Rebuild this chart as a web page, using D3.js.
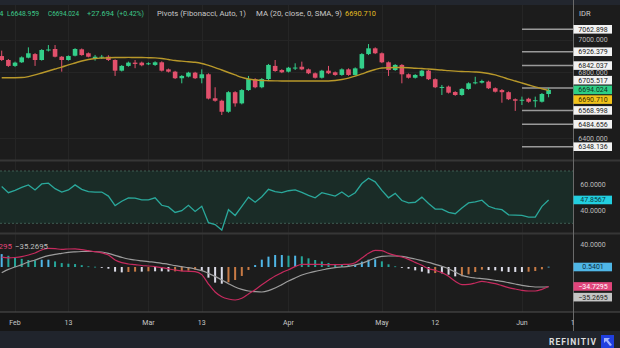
<!DOCTYPE html>
<html><head><meta charset="utf-8">
<script src="https://cdn.jsdelivr.net/npm/d3@7"></script>
<style>
html,body{margin:0;padding:0;background:#1c1c1c;overflow:hidden}
svg{display:block;font-family:Roboto,"Open Sans",sans-serif}
</style></head><body><svg id="c" width="620" height="348"></svg>
<script>
// ---------- DATA ----------
const opens=[6900,6876,6840,6862,6890,6912,6876,6934,6943,6896,
6876,6902,6941,6917,6888,6893,6896,6876,6811,6840,
6860,6860,6850,6846,6862,6819,6805,6765,6775,6799,
6765,6789,6643,6628,6561,6680,6612,6693,6759,6710,
6760,6840,6815,6805,6825,6835,6819,6795,6768,6811,
6801,6785,6819,6785,6825,6912,6947,6917,6862,6815,
6846,6789,6768,6779,6811,6759,6707,6714,6681,6663,
6700,6735,6738,6744,6704,6693,6680,6637,6630,6640,
6626,6622,6669];
const highs=[6933,6882,6866,6898,6953,6918,6942,6967,6967,6900,
6904,6948,6946,6922,6907,6907,6905,6880,6845,6866,
6876,6866,6862,6868,6868,6824,6810,6784,6804,6804,
6819,6795,6710,6634,6686,6686,6699,6779,6765,6766,
6852,6876,6820,6834,6856,6866,6824,6800,6816,6840,
6806,6825,6825,6831,6918,6973,6953,6922,6867,6851,
6851,6794,6790,6816,6816,6764,6724,6720,6686,6705,
6740,6774,6756,6750,6709,6699,6685,6642,6653,6646,
6653,6675,6705];
const lows=[6870,6834,6834,6858,6886,6840,6872,6928,6892,6805,
6872,6898,6902,6892,6872,6882,6870,6779,6806,6835,
6826,6838,6845,6840,6806,6800,6760,6734,6770,6760,
6734,6636,6622,6541,6555,6592,6606,6688,6704,6704,
6754,6804,6796,6800,6815,6814,6790,6763,6763,6790,
6780,6780,6780,6780,6820,6906,6912,6857,6779,6810,
6734,6763,6763,6774,6754,6705,6663,6672,6658,6658,
6695,6728,6733,6699,6678,6616,6632,6566,6602,6616,
6588,6617,6648.959];
const closes=[6876,6840,6860,6892,6917,6876,6937,6940,6896,6876,
6900,6943,6906,6896,6896,6896,6876,6811,6840,6860,
6852,6844,6856,6862,6811,6805,6765,6779,6799,6765,
6789,6641,6628,6561,6680,6612,6693,6760,6710,6760,
6846,6809,6801,6829,6830,6819,6795,6768,6811,6795,
6785,6819,6785,6825,6912,6947,6917,6862,6815,6846,
6789,6768,6785,6811,6759,6710,6712,6677,6663,6700,
6734,6740,6748,6704,6683,6680,6637,6628,6634,6622,
6631,6669,6694.024];
const ma20=[6768,6768,6768,6769,6775,6785,6797,6809,6821,6833,
6846,6858,6870,6879,6885,6888,6890,6891,6891,6892,
6891,6891,6890,6889,6885,6879,6873,6869,6865,6862,
6855,6843,6830,6815,6800,6785,6770,6760,6754,6751,
6750,6749,6748,6748,6748,6748,6748,6748,6748,6748,
6751,6757,6766,6778,6791,6806,6818,6827,6829,6830,
6830,6829,6826,6824,6821,6818,6815,6811,6808,6806,
6805,6803,6800,6794,6785,6773,6760,6748,6736,6724,
6712,6701,6690.71];
const rsi=[58.1,53.4,55.2,57.5,59.4,55.5,60.1,60.7,56.5,53.9,
55.5,59.4,56.0,54.2,53.9,53.9,50.8,43.5,46.9,49.5,
49.2,47.9,47.9,49.5,43.8,42.5,38.3,39.6,43.8,39.1,
43.0,30.5,29.0,24.8,40.4,36.0,43.0,50.0,46.1,50.3,
56.0,54.2,53.4,54.9,55.5,53.6,51.3,49.5,53.4,52.1,
50.8,53.9,50.3,53.4,60.4,64.5,61.7,55.2,49.5,52.9,
47.4,45.6,46.1,50.0,45.1,40.9,40.9,38.3,37.3,41.7,
45.6,46.4,47.7,43.0,41.2,40.4,36.5,36.2,36.0,34.7,
34.7,43.0,47.8567];
const macd=[17.6,16.4,17.0,18.5,21.4,25.0,30.4,33.3,32.7,31.5,
32.1,32.4,31.0,29.2,27.4,25.3,21.4,12.5,7.7,5.4,
4.2,2.7,1.8,0.6,-1.2,-3.3,-5.4,-7.1,-7.7,-8.3,
-13.7,-30.4,-44.6,-53.0,-57.1,-58.9,-55.9,-48.2,-40.5,-31.5,
-23.8,-16.1,-10.1,-4.8,0.6,4.8,4.8,4.8,4.5,4.2,
4.2,4.5,4.8,7.7,16.1,24.4,29.8,29.2,24.4,20.8,
17.9,13.7,8.3,3.0,-3.0,-6.0,-10.1,-16.7,-25.6,-31.5,
-31.0,-28.6,-25.6,-27.4,-29.8,-33.3,-36.9,-39.3,-41.7,-42.9,
-42.9,-39.9,-34.7295];
const signal=[-10.1,-4.2,0,4.2,8.9,12.5,16.7,20.2,22.6,24.4,
26.2,27.1,27.7,28.0,27.4,26.8,24.4,20.8,17.3,14.3,
12.5,11.0,9.5,8.3,6.5,4.8,2.4,0.6,-1.2,-3.6,
-6.5,-11.3,-16.7,-23.2,-29.8,-35.7,-39.9,-42.9,-44.0,-44.6,
-42.3,-37.5,-31.5,-25.0,-19.6,-14.3,-10.7,-7.7,-5.4,-3.0,
-1.2,0,1.2,3.6,6.5,11.3,16.1,19.1,19.6,19.6,
19.1,16.7,14.3,11.3,8.3,4.8,1.2,-3.0,-8.9,-14.9,
-17.9,-19.6,-20.8,-22.0,-23.8,-25.6,-28.0,-30.4,-32.7,-34.5,
-35.7,-35.7,-35.2695];
const hist=[23,20,17,14.5,12.5,12,13,13,10,7,
5.9,5.3,3.3,1.2,0.5,-1.5,-3,-8.3,-9.6,-8.9,
-8.3,-8.3,-7.7,-7.7,-7.7,-8.1,-7.8,-7.7,-6.5,-4.7,
-7.2,-19,-27.9,-29.8,-27.3,-23.2,-16,-5.3,3.5,13.1,
18.5,21.4,21.4,20.2,20.2,19.1,15.5,12.5,9.9,7.2,
5.4,4.5,3.6,4.1,9.6,13.1,13.7,10.1,4.8,1.2,
-1.2,-3,-6,-8.3,-11.3,-10.8,-11.3,-13.7,-16.7,-16.6,
-13.1,-9,-4.8,-5.4,-6,-7.7,-8.9,-8.9,-9,-8.4,
-7.2,-4.2,0.5401];
const tickIdx=[2,10,22,30,43,57,65,78,85.6];
const tickLabels=["Feb","13","Mar","13","Apr","May","12","Jun","1"];
const pivotLevels=[7062.898,6926.379,6842.037,6705.517,6568.998,6484.656,6348.136];
const priceTicks=[7000,6800,6400];
const rsiTicks=[60,40];
const macdTicks=[40];

// ---------- LAYOUT ----------
const svg=d3.select("#c");
const W=620,H=348,AX=573.5;
const x=d3.scaleLinear().domain([0,82]).range([1.7,548.6]);
const yP=d3.scaleLinear().domain([6348.136,7062.898]).range([146.7,29.3]);
const yR=d3.scaleLinear().domain([30,70]).range([223.3,171]);
const yM=d3.scaleLinear().domain([-40,40]).range([289.4,244.6]);
const f3=d3.format(".3f"), f4=d3.format(".4f");
const GREEN="#33cf8a", RED="#e2506c";

svg.append("rect").attr("width",W).attr("height",H).attr("fill","#1c1c1c");
svg.append("rect").attr("width",W).attr("height",5).attr("fill","#22262e");
svg.append("rect").attr("y",312).attr("width",W).attr("height",19).attr("fill","#161616");
svg.append("rect").attr("y",331).attr("width",W).attr("height",17).attr("fill","#20242c");

const defs=svg.append("defs");
defs.append("clipPath").attr("id","cp").append("rect").attr("x",0).attr("y",0).attr("width",AX).attr("height",312);

// grids
const grid=svg.append("g").attr("stroke","#252525").attr("stroke-width",1);
tickIdx.slice(0,8).forEach(t=>grid.append("line").attr("x1",Math.round(x(t))+0.5).attr("x2",Math.round(x(t))+0.5).attr("y1",5).attr("y2",312));
priceTicks.forEach(v=>grid.append("line").attr("x1",0).attr("x2",AX).attr("y1",Math.round(yP(v))+0.5).attr("y2",Math.round(yP(v))+0.5));

// RSI band
svg.append("rect").attr("x",0).attr("width",AX).attr("y",yR(70)).attr("height",yR(30)-yR(70)).attr("fill","#1a2c27");
[70,30].forEach(v=>svg.append("line").attr("x1",0).attr("x2",AX).attr("y1",yR(v)).attr("y2",yR(v))
  .attr("stroke","#3f5d53").attr("stroke-dasharray","2,2").attr("stroke-width",1));
rsiTicks.forEach(v=>grid.append("line").attr("x1",0).attr("x2",AX).attr("y1",yR(v)).attr("y2",yR(v)).attr("stroke","#22322d"));

// separators
[[160.5,"#363636",2],[233.5,"#363636",2],[312,"#505050",1]].forEach(([y,c,w])=>
  svg.append("line").attr("x1",0).attr("x2",W).attr("y1",y).attr("y2",y).attr("stroke",c).attr("stroke-width",w));

const plot=svg.append("g").attr("clip-path","url(#cp)");

// pivot lines
pivotLevels.forEach(v=>plot.append("line").attr("x1",522).attr("x2",AX).attr("y1",yP(v)).attr("y2",yP(v))
  .attr("stroke","#9a9a9a").attr("stroke-width",1.5));

// candles
const idx=d3.range(closes.length);
const cg=plot.append("g");
idx.forEach(i=>{
  const up=closes[i]>=opens[i], col=up?GREEN:RED, cx=x(i);
  cg.append("line").attr("x1",cx).attr("x2",cx).attr("y1",yP(highs[i])).attr("y2",yP(lows[i])).attr("stroke",col).attr("stroke-width",1);
  const t=yP(Math.max(opens[i],closes[i])), b=yP(Math.min(opens[i],closes[i]));
  cg.append("rect").attr("x",cx-2.3).attr("width",4.6).attr("y",t).attr("height",Math.max(1,b-t)).attr("fill",col);
});

// MA
plot.append("path").datum(ma20).attr("fill","none").attr("stroke","#b8982a").attr("stroke-width",1.4)
  .attr("d",d3.line().x((d,i)=>x(i)).y(d=>yP(d)).curve(d3.curveMonotoneX));

// RSI
plot.append("path").datum(rsi).attr("fill","none").attr("stroke","#2aa89b").attr("stroke-width",1.3)
  .attr("d",d3.line().x((d,i)=>x(i)).y(d=>yR(d)));

// MACD hist
idx.forEach(i=>{
  const v=hist[i], p=i>0?hist[i-1]:v;
  let c;
  if(v>=0) c=(v>=p)?"#4fb6e6":"#26a69a"; else c=(v<=p)?"#dcdce8":"#c77a45";
  plot.append("rect").attr("x",x(i)-1).attr("width",2).attr("y",Math.min(yM(0),yM(v))).attr("height",Math.max(0.8,Math.abs(yM(v)-yM(0)))).attr("fill",c);
});
plot.append("path").datum(signal).attr("fill","none").attr("stroke","#9c9c9c").attr("stroke-width",1.2)
  .attr("d",d3.line().x((d,i)=>x(i)).y(d=>yM(d)).curve(d3.curveMonotoneX));
plot.append("path").datum(macd).attr("fill","none").attr("stroke","#c62a5e").attr("stroke-width",1.2)
  .attr("d",d3.line().x((d,i)=>x(i)).y(d=>yM(d)).curve(d3.curveMonotoneX));

// axis line
svg.append("line").attr("x1",AX).attr("x2",AX).attr("y1",0).attr("y2",331).attr("stroke","#6a6a6a").attr("stroke-width",1);

// right axis labels
const lab=svg.append("g").attr("font-size",7).attr("text-anchor","middle");
svg.append("text").attr("x",579).attr("y",15.5).attr("fill","#cfcfcf").attr("font-size",7.5).text("IDR");
priceTicks.forEach(v=>lab.append("text").attr("x",593).attr("y",yP(v)).attr("dy","0.35em").attr("fill","#bdbdbd").text(f3(v)));
const boxes=pivotLevels.map(v=>({v,t:f3(v),bg:"#f2f2f2",fg:"#1c1c1c"}));
boxes.push({v:closes[closes.length-1],t:f3(closes[closes.length-1]),bg:"#2fcf86",fg:"#123322",anchor:true});
boxes.push({v:ma20[ma20.length-1],t:f3(ma20[ma20.length-1]),bg:"#f1c31c",fg:"#3a2c00"});
boxes.forEach(b=>b.y=yP(b.v));
boxes.sort((a,b)=>a.y-b.y);
const ai=boxes.findIndex(b=>b.anchor), GAP=9.7;
for(let i=ai+1;i<boxes.length;i++) boxes[i].y=Math.max(boxes[i].y,boxes[i-1].y+GAP);
for(let i=ai-1;i>=0;i--) boxes[i].y=Math.min(boxes[i].y,boxes[i+1].y-GAP);
function box(y,t,bg,fg){
  lab.append("rect").attr("x",AX).attr("y",y-4.3).attr("width",38.5).attr("height",8.6).attr("fill",bg);
  lab.append("text").attr("x",593).attr("y",y).attr("dy","0.35em").attr("fill",fg).text(t);
}
boxes.forEach(b=>box(b.y,b.t,b.bg,b.fg));

rsiTicks.forEach(v=>lab.append("text").attr("x",593).attr("y",yR(v)).attr("dy","0.35em").attr("fill","#bdbdbd").text(f4(v)));
box(yR(rsi[rsi.length-1]),f4(rsi[rsi.length-1]),"#22cfe0","#0d3a40");
macdTicks.forEach(v=>lab.append("text").attr("x",593).attr("y",yM(v)).attr("dy","0.35em").attr("fill","#bdbdbd").text(f4(v)));
const mb=[{v:hist[hist.length-1],bg:"#4fb6e6",fg:"#0c2c40",y:yM(0)},
          {v:macd[macd.length-1],bg:"#e0457b",fg:"#ffffff"},
          {v:signal[signal.length-1],bg:"#c4c4c4",fg:"#1c1c1c"}];
mb[1].y=yM(mb[1].v); mb[2].y=Math.max(yM(mb[2].v),mb[1].y+GAP+1);
mb.forEach(b=>box(b.y,f4(b.v),b.bg,b.fg));

// time axis
const ta=svg.append("g").attr("font-size",7).attr("fill","#c8c8c8").attr("text-anchor","middle");
tickIdx.forEach((t,i)=>ta.append("text").attr("x",x(t)).attr("y",324.5).text(tickLabels[i]));

// header legend
const hd=svg.append("g").attr("font-size",8);
function ht(xp,t,c,w,anchor){const e=hd.append("text").attr("x",xp).attr("y",16).attr("fill",c).text(t);
  if(w) e.attr("textLength",w).attr("lengthAdjust","spacingAndGlyphs"); if(anchor) e.attr("text-anchor",anchor); return e;}
ht(3.5,"H6705.494","#3cc98a",null,"end");
ht(7,"L"+f3(lows[lows.length-1]),"#3cc98a",32);
ht(48,"C"+f3(closes[closes.length-1]),"#3cc98a",31);
ht(87,"+27.694","#3cc98a",27);
ht(117,"(+0.42%)","#3cc98a",27);
ht(157,"Pivots (Fibonacci, Auto, 1)","#c8c8c8",89);
ht(256,"MA (20, close, 0, SMA, 9)","#c8c8c8",86);
ht(345,f3(ma20[ma20.length-1]),"#e3bd22",31);
const mh=svg.append("g").attr("font-size",8);
mh.append("text").attr("x",12).attr("y",249).attr("text-anchor","end").attr("fill","#e0457b").text(f4(macd[macd.length-1]));
mh.append("text").attr("x",15).attr("y",249).attr("fill","#bdbdbd").attr("textLength",33).attr("lengthAdjust","spacingAndGlyphs").text(f4(signal[signal.length-1]));

// footer
svg.append("text").attr("x",597).attr("y",344.5).attr("text-anchor","end").attr("fill","#dcdcdc")
  .attr("font-size",8.5).attr("font-weight","bold").attr("letter-spacing",1).text("REFINITIV");
svg.append("rect").attr("x",601).attr("y",335).attr("width",13).attr("height",13).attr("fill","#1f3fe0");
svg.append("path").attr("d","M604,338 L610,338 L608,340 L612,345 L610,346 L606,341 L604,343 Z").attr("fill","#9fb3ff");
</script></body></html>
